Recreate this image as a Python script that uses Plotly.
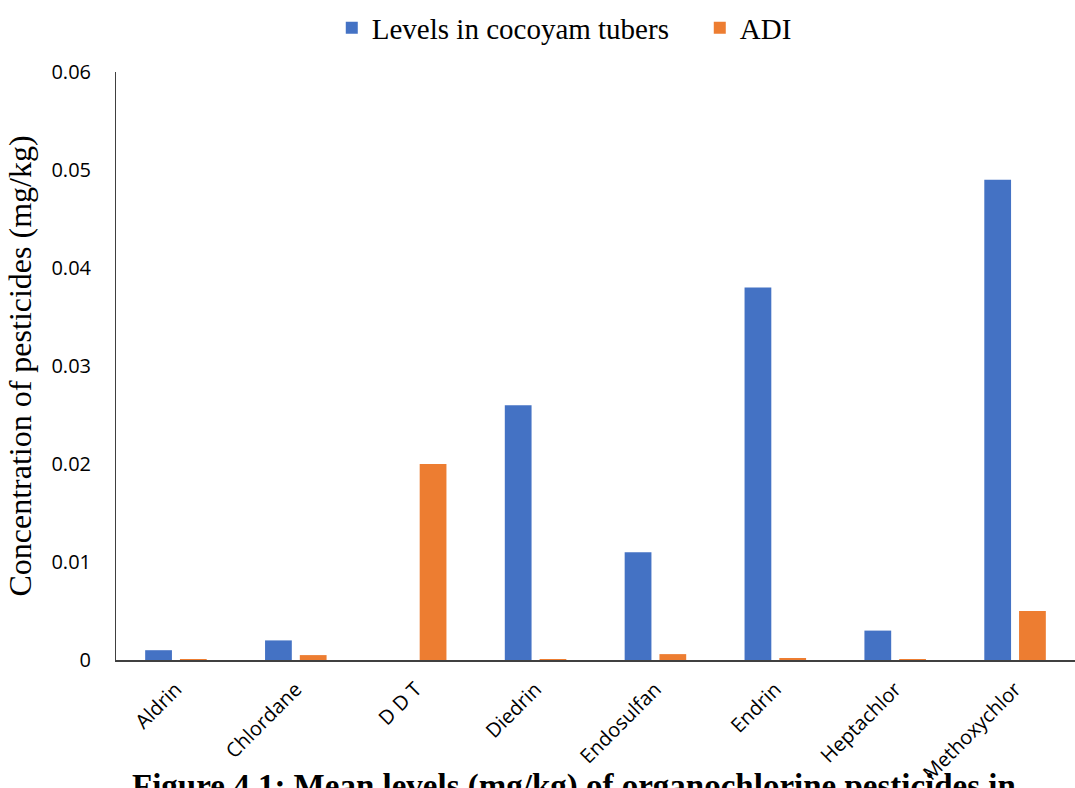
import plotly.graph_objects as go

pesticides = ["Aldrin", "Chlordane", "D D T", "Diedrin", "Endosulfan",
              "Endrin", "Heptachlor", "Methoxychlor"]
levels_tubers = [0.001, 0.002, 0.0, 0.026, 0.011, 0.038, 0.003, 0.049]
adi = [0.0001, 0.0005, 0.02, 0.0001, 0.0006, 0.0002, 0.0001, 0.005]

fig = go.Figure()
fig.add_trace(go.Bar(x=pesticides, y=levels_tubers, name="Levels in cocoyam tubers",
                     marker=dict(color="#4472C4", line=dict(width=0))))
fig.add_trace(go.Bar(x=pesticides, y=adi, name="ADI",
                     marker=dict(color="#ED7D31", line=dict(width=0))))

fig.update_layout(
    width=1075, height=788,
    margin=dict(l=116, r=0, t=72, b=128),
    paper_bgcolor="white", plot_bgcolor="white",
    barmode="group", bargap=0.42, bargroupgap=0.23,
    legend=dict(orientation="h", x=0.225, xanchor="left", y=1.075, yanchor="middle",
                font=dict(family="Liberation Serif", size=29, color="black"),
                itemwidth=30, entrywidth=323, traceorder="normal"),
    xaxis=dict(showline=True, linecolor="#404040", linewidth=1.5, ticks="",
               tickangle=-45, tickfont=dict(family="Open Sans", size=20, color="black"),
               ticklabelstandoff=8, showgrid=False, automargin=False),
    yaxis=dict(range=[0, 0.06], dtick=0.01, showline=True, linecolor="#404040",
               linewidth=1, ticks="", showgrid=False, zeroline=False,
               tickformat="~g", ticklabelstandoff=20, automargin=False,
               tickfont=dict(family="Open Sans", size=20, color="black"),
               title=dict(text="Concentration of pesticides (mg/kg)", standoff=10,
                          font=dict(family="Liberation Serif", size=32, color="black"))),
    annotations=[dict(text="<b>Figure 4.1: Mean levels (mg/kg) of organochlorine pesticides in</b>",
                      xref="paper", yref="paper", x=0.478, y=-0.18, xanchor="center",
                      yanchor="top", showarrow=False,
                      font=dict(family="Liberation Serif", size=33, color="black"))],
)

fig.write_html("out.html")
